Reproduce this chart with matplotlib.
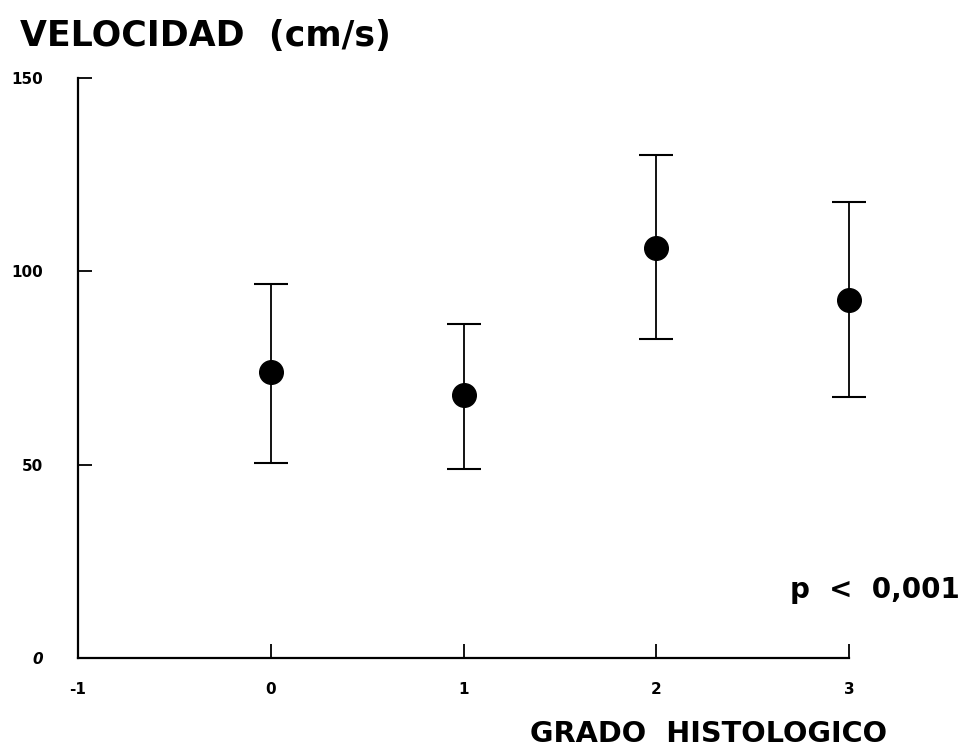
import matplotlib
matplotlib.use("Agg")
import matplotlib.pyplot as plt

grado = [0, 1, 2, 3]
velocidad = [74, 68, 106, 92.5]
err_low = [50.5, 49, 82.5, 67.5]
err_high = [96.8, 86.5, 130, 118]

x_ticks = [-1, 0, 1, 2, 3]
x_labels = ["-1", "0", "1", "2", "3"]
y_ticks = [0, 50, 100, 150]
y_labels = ["0", "50", "100", "150"]

plt.rcParams['font.family'] = ['DejaVu Sans']

fig = plt.figure(figsize=(9.66, 7.52), dpi=100)
ax = fig.add_axes([78/966, 94/752, 771/966, 580/752])

lower = [v - l for v, l in zip(velocidad, err_low)]
upper = [h - v for v, h in zip(velocidad, err_high)]
ax.errorbar(grado, velocidad, yerr=[lower, upper], fmt='o', color='black',
            markersize=17, ecolor='black', elinewidth=1.3, capsize=12,
            capthick=1.5, clip_on=False)

ax.set_xlim(-1, 3)
ax.set_ylim(0, 150)
ax.set_xticks(x_ticks)
ax.set_xticklabels(x_labels)
ax.set_yticks(y_ticks)
ax.set_yticklabels(y_labels)
for s in ['top', 'right']:
    ax.spines[s].set_visible(False)
for s in ['left', 'bottom']:
    ax.spines[s].set_linewidth(1.6)
ax.tick_params(axis='x', direction='in', length=10, width=1.3, pad=17, labelsize=11)
ax.tick_params(axis='y', direction='in', length=10, width=1.3, pad=25, labelsize=11)
for lab in ax.get_xticklabels() + ax.get_yticklabels():
    lab.set_fontweight('bold')
ax.get_yticklabels()[0].set_fontstyle('italic')

fig.text(20/966, 1 - 36/752, "VELOCIDAD  (cm/s)", fontsize=25, fontweight='bold',
         ha='left', va='center')
fig.text(530/966, 1 - 734/752, "GRADO  HISTOLOGICO", fontsize=20.7, fontweight='bold',
         ha='left', va='center')
fig.text(790/966, 1 - 590/752, "p  <  0,001", fontsize=20, fontweight='bold',
         ha='left', va='center')

fig.savefig("out.png", dpi=100, facecolor='white')
